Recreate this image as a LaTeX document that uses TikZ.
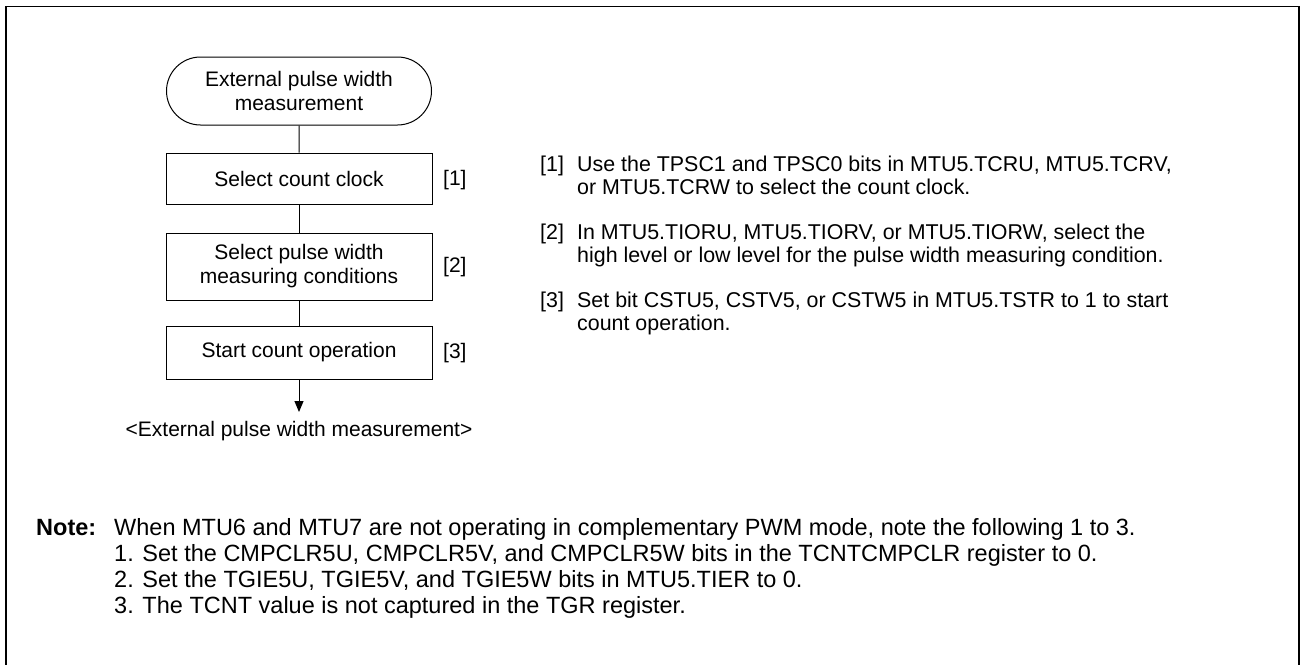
\documentclass[tikz,border=0pt]{standalone}
\usepackage{fontspec}
\setmainfont{Liberation Sans}
\usetikzlibrary{arrows.meta,shapes.misc}
\begin{document}
\begin{tikzpicture}[x=1pt,y=-1pt,
  flow/.style={draw,line width=1pt,inner sep=0pt,align=center,font=\fontsize{21}{24}\selectfont},
  stepbox/.style={flow,rectangle,minimum width=266pt,minimum height=51pt},
  termbox/.style={flow,rounded rectangle,minimum width=265pt,minimum height=68pt},
  conn/.style={line width=1pt},
  tag/.style={anchor=west,inner sep=0pt,font=\fontsize{21}{24}\selectfont},
  rtext/.style={anchor=base west,inner sep=0pt,font=\fontsize{21.4}{23}\selectfont},
  ntext/.style={anchor=base west,inner sep=0pt,font=\fontsize{23.5}{26}\selectfont}]
\useasboundingbox (0,0) rectangle (1301,664);
\draw[line width=1.8pt] (6,680) -- (6,6.5) -- (1299,6.5) -- (1299,680);

\node[termbox] (term) at (299,91) {External pulse width\\measurement};
\node[stepbox] (b1) at (299,178.5) {Select count clock};
\node[stepbox,minimum height=67pt] (b2) at (299,266.5) {Select pulse width\\measuring conditions};
\node[stepbox,minimum height=53pt] (b3) at (299,352.5) {Start count operation};
\coordinate (endc) at (299,412);
\node[inner sep=0pt,font=\fontsize{21}{24}\selectfont] (lbl) at (299,431) {<External pulse width measurement>};

\draw[conn] (term) -- (b1);
\draw[conn] (b1) -- (b2);
\draw[conn] (b2) -- (b3);
\draw[conn,-{Triangle[length=11pt,width=9pt]}] (b3) -- (endc);

\node[tag] (t1) at (443,180) {[1]};
\node[tag] (t2) at (443,267) {[2]};
\node[tag] (t3) at (443,353) {[3]};

\node[rtext] (r1n) at (540,171) {[1]};
\node[rtext] (r1a) at (577,171) {Use the TPSC1 and TPSC0 bits in MTU5.TCRU, MTU5.TCRV,};
\node[rtext] (r1b) at (577,194) {or MTU5.TCRW to select the count clock.};
\node[rtext] (r2n) at (540,239) {[2]};
\node[rtext] (r2a) at (577,239) {In MTU5.TIORU, MTU5.TIORV, or MTU5.TIORW, select the};
\node[rtext] (r2b) at (577,262) {high level or low level for the pulse width measuring condition.};
\node[rtext] (r3n) at (540,307) {[3]};
\node[rtext] (r3a) at (577,307) {Set bit CSTU5, CSTV5, or CSTW5 in MTU5.TSTR to 1 to start};
\node[rtext] (r3b) at (577,330) {count operation.};

\node[ntext,font=\fontsize{23.5}{26}\bfseries] (nh) at (36,535) {Note:};
\node[ntext] (n0) at (114,535) {When MTU6 and MTU7 are not operating in complementary PWM mode, note the following 1 to 3.};
\node[ntext] (n1) at (114,561) {1. Set the CMPCLR5U, CMPCLR5V, and CMPCLR5W bits in the TCNTCMPCLR register to 0.};
\node[ntext] (n2) at (114,587) {2. Set the TGIE5U, TGIE5V, and TGIE5W bits in MTU5.TIER to 0.};
\node[ntext] (n3) at (114,613) {3. The TCNT value is not captured in the TGR register.};
\end{tikzpicture}
\end{document}
